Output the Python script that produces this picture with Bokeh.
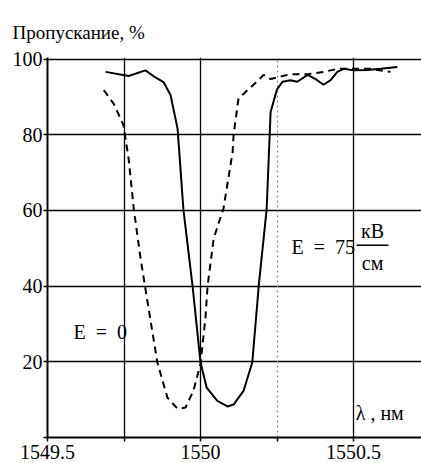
from bokeh.plotting import figure
from bokeh.models import Range1d, FixedTicker, Label, Grid
from bokeh.embed import file_html
from bokeh.resources import INLINE

# Data
# E = 75 kV/cm (solid curve)
wl_solid = [1549.690, 1549.765, 1549.820, 1549.846, 1549.879, 1549.902, 1549.925,
            1549.944, 1549.974, 1550.000, 1550.020, 1550.055, 1550.088, 1550.108,
            1550.141, 1550.169, 1550.186, 1550.190, 1550.216, 1550.229, 1550.250,
            1550.268, 1550.294, 1550.316, 1550.350, 1550.376, 1550.402, 1550.425,
            1550.447, 1550.468, 1550.500, 1550.546, 1550.588, 1550.643]
tr_solid = [96.6, 95.5, 97.0, 95.5, 93.9, 90.5, 81.6,
            60.3, 40.0, 19.8, 13.2, 9.7, 8.2, 8.7,
            12.4, 19.8, 36.0, 40.0, 60.3, 86.0, 92.0,
            94.0, 94.4, 94.0, 95.8, 94.7, 93.2, 94.4,
            96.6, 97.4, 97.0, 97.1, 97.4, 97.9]

# E = 0 (dashed curve)
wl_dash = [1549.684, 1549.716, 1549.748, 1549.765, 1549.782, 1549.804, 1549.830,
           1549.859, 1549.892, 1549.925, 1549.951, 1549.977, 1550.000, 1550.016,
           1550.023, 1550.043, 1550.075, 1550.105, 1550.108, 1550.124, 1550.147,
           1550.173, 1550.206, 1550.229, 1550.294, 1550.350, 1550.402, 1550.447,
           1550.500, 1550.556, 1550.621]
tr_dash = [91.8, 88.2, 82.6, 73.7, 60.3, 47.4, 34.2,
           19.8, 10.5, 7.6, 7.9, 12.4, 19.5, 31.6,
           40.0, 52.6, 60.5, 75.5, 80.0, 89.5, 91.3,
           93.2, 95.8, 94.7, 96.0, 96.0, 96.6, 97.4,
           97.4, 97.4, 96.6]

x_ticks = [1549.5, 1549.75, 1550.0, 1550.25, 1550.5]
x_tick_labels = {1549.5: "1549.5", 1549.75: "", 1550.0: "1550", 1550.25: "", 1550.5: "1550.5"}
y_ticks = [0, 20, 40, 60, 80, 100]
y_tick_labels = {0: "", 20: "20", 40: "40", 60: "60", 80: "80", 100: "100"}

SERIF = "'Liberation Serif', 'Times New Roman', serif"
NB = "\u00a0"

p = figure(width=421, height=463, output_backend="svg", toolbar_location=None,
           x_range=Range1d(1549.5, 1550.722), y_range=Range1d(0, 100.4),
           min_border_left=47, min_border_right=0, min_border_top=57, min_border_bottom=26,
           title="Пропускание, %")
p.outline_line_color = None
p.background_fill_color = "white"
p.border_fill_color = "white"

p.title.align = "left"
p.title.offset = -35
p.title.text_font = SERIF
p.title.text_font_size = "19px"
p.title.text_font_style = "normal"
p.title.text_color = "black"
p.title.standoff = 30

# axes
p.xaxis.ticker = FixedTicker(ticks=x_ticks)
p.xaxis.major_label_overrides = x_tick_labels
p.yaxis.ticker = FixedTicker(ticks=y_ticks)
p.yaxis.major_label_overrides = y_tick_labels
for ax in (p.xaxis[0], p.yaxis[0]):
    ax.axis_line_color = "black"
    ax.axis_line_width = 2
    ax.major_tick_line_color = "black"
    ax.major_tick_line_width = 1.5
    ax.major_tick_out = 4
    ax.major_tick_in = 0
    ax.minor_tick_line_color = None
    ax.major_label_text_font = SERIF
    ax.major_label_text_font_size = "20px"
    ax.major_label_text_color = "black"
    ax.major_label_standoff = 1
p.xaxis.major_label_standoff = 3
p.xaxis.major_tick_out = 4

# grids
p.xgrid.grid_line_color = None
p.ygrid.grid_line_color = "black"
p.ygrid.grid_line_width = 1.3
p.ygrid.ticker = FixedTicker(ticks=[20, 40, 60, 80, 100])
g1 = Grid(dimension=0, ticker=FixedTicker(ticks=[1549.75, 1550.0, 1550.5]),
          grid_line_color="black", grid_line_width=1.3)
g2 = Grid(dimension=0, ticker=FixedTicker(ticks=[1550.25]),
          grid_line_color="#888888", grid_line_width=1.2, grid_line_dash="2 3")
p.add_layout(g1)
p.add_layout(g2)

# curves
p.line(wl_dash, tr_dash, line_color="black", line_width=2, line_dash="7 5")
p.line(wl_solid, tr_solid, line_color="black", line_width=2)

# texts
p.add_layout(Label(x=1549.585, y=27.9, text="E" + NB * 2 + "=" + NB * 2 + "0", text_font=SERIF,
                   text_font_size="20px", text_baseline="middle", text_color="black"))
p.add_layout(Label(x=1550.297, y=50.3, text="E" + NB * 2 + "=" + NB * 2 + "75", text_font=SERIF,
                   text_font_size="20px", text_baseline="middle", text_color="black"))
p.add_layout(Label(x=1550.562, y=54.6, text="кВ", text_font=SERIF,
                   text_font_size="20px", text_baseline="middle", text_align="center",
                   text_color="black"))
p.add_layout(Label(x=1550.562, y=46.0, text="см", text_font=SERIF,
                   text_font_size="20px", text_baseline="middle", text_align="center",
                   text_color="black"))
p.line([1550.510, 1550.614], [50.8, 50.8], line_color="black", line_width=1.5)
p.add_layout(Label(x=1550.507, y=6.6, text="λ , нм", text_font=SERIF,
                   text_font_size="20px", text_baseline="middle", text_color="black"))

open("out.html", "w").write(file_html(p, INLINE))
